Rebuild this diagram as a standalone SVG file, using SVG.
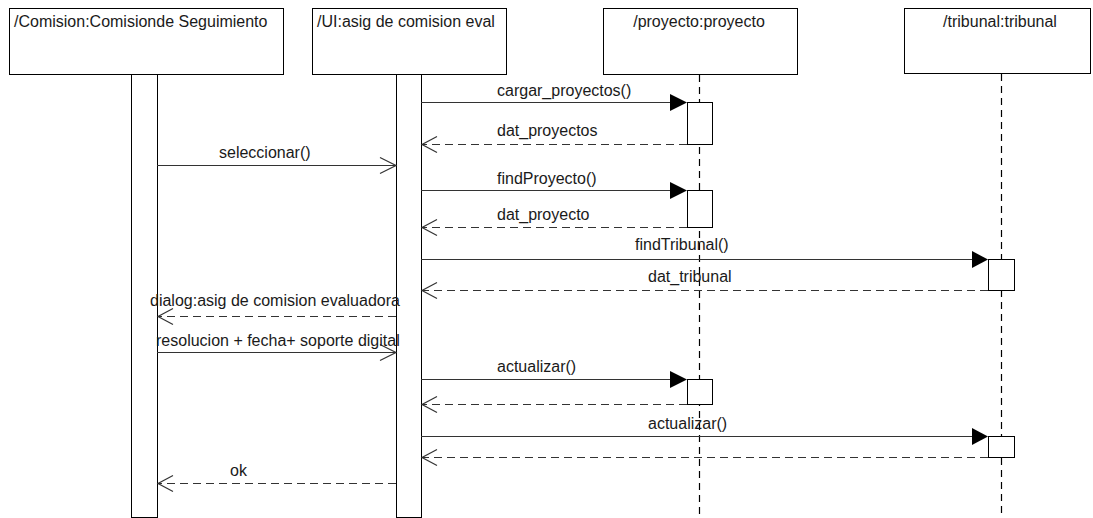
<svg xmlns="http://www.w3.org/2000/svg" width="1093" height="518" viewBox="0 0 1093 518">
  <style>
    .box { fill: #fff; stroke: #000; stroke-width: 1; }
    .act { fill: #fff; stroke: #000; stroke-width: 1; }
    .life { stroke: #000; stroke-width: 1.2; stroke-dasharray: 7 5; fill: none; }
    .msg { stroke: #333; stroke-width: 1.2; fill: none; }
    .ret { stroke: #333; stroke-width: 1.2; stroke-dasharray: 8 5; fill: none; }
    .open { stroke: #333; stroke-width: 1.2; fill: none; }
    .head { fill: #000; stroke: none; }
    text { font-family: "Liberation Sans", Arial, sans-serif; font-size: 16px; fill: #1a1a1a; }
  </style>
  <rect width="1093" height="518" fill="#fff"/>

  <!-- participants -->
  <g id="comision">
    <rect class="box" x="9.5" y="8.5" width="274" height="66"/>
    <text x="14" y="27">/Comision:Comisionde Seguimiento</text>
    <rect class="act" x="131.5" y="74.5" width="26" height="443"/>
  </g>
  <g id="ui">
    <rect class="box" x="312.5" y="8.5" width="194" height="66"/>
    <text x="317" y="27">/UI:asig de comision eval</text>
    <rect class="act" x="396.5" y="74.5" width="25" height="443"/>
  </g>
  <g id="proyecto">
    <rect class="box" x="603.5" y="8.5" width="194" height="66"/>
    <text x="699" y="27" text-anchor="middle">/proyecto:proyecto</text>
    <line class="life" x1="699.5" y1="75" x2="699.5" y2="518"/>
    <rect class="act" x="687.5" y="102.5" width="25" height="42"/>
    <rect class="act" x="687.5" y="190.5" width="25" height="37"/>
    <rect class="act" x="687.5" y="379.5" width="25" height="25"/>
  </g>
  <g id="tribunal">
    <rect class="box" x="904.5" y="8.5" width="186" height="65"/>
    <text x="1000" y="27" text-anchor="middle">/tribunal:tribunal</text>
    <line class="life" x1="1001.5" y1="74" x2="1001.5" y2="518"/>
    <rect class="act" x="988.5" y="259.5" width="26" height="31"/>
    <rect class="act" x="988.5" y="436.5" width="26" height="21"/>
  </g>

  <!-- messages -->
  <g id="connectors">
    <!-- cargar_proyectos() -->
    <line class="msg" x1="421" y1="102.5" x2="672" y2="102.5"/>
    <polygon class="head" points="670,94 687,102.5 670,111"/>
    <text x="497" y="96">cargar_proyectos()</text>
    <!-- dat_proyectos -->
    <line class="ret" x1="687" y1="144.5" x2="422" y2="144.5"/>
    <polyline class="open" points="437,136.5 422,144.5 437,152.5"/>
    <text x="497" y="136">dat_proyectos</text>
    <!-- seleccionar() -->
    <line class="msg" x1="157" y1="165.5" x2="396" y2="165.5"/>
    <polyline class="open" points="380,157.5 396,165.5 380,173.5"/>
    <text x="219" y="158">seleccionar()</text>
    <!-- findProyecto() -->
    <line class="msg" x1="421" y1="190.5" x2="672" y2="190.5"/>
    <polygon class="head" points="670,182 687,190.5 670,199"/>
    <text x="497" y="184">findProyecto()</text>
    <!-- dat_proyecto -->
    <line class="ret" x1="687" y1="227.5" x2="422" y2="227.5"/>
    <polyline class="open" points="437,219.5 422,227.5 437,235.5"/>
    <text x="497" y="220">dat_proyecto</text>
    <!-- findTribunal() -->
    <line class="msg" x1="421" y1="259.5" x2="973" y2="259.5"/>
    <polygon class="head" points="972,251 988,259.5 972,268"/>
    <text x="635" y="250">findTribunal()</text>
    <!-- dat_tribunal -->
    <line class="ret" x1="988" y1="290.5" x2="422" y2="290.5"/>
    <polyline class="open" points="437,282.5 422,290.5 437,298.5"/>
    <text x="648" y="282">dat_tribunal</text>
    <!-- dialog -->
    <line class="ret" x1="396" y1="316.5" x2="158" y2="316.5"/>
    <polyline class="open" points="173,308.5 158,316.5 173,324.5"/>
    <text x="150" y="306">dialog:asig de comision evaluadora</text>
    <!-- resolucion -->
    <line class="msg" x1="157" y1="352.5" x2="396" y2="352.5"/>
    <polyline class="open" points="380,344.5 396,352.5 380,360.5"/>
    <text x="156" y="346">resolucion + fecha+ soporte digital</text>
    <!-- actualizar() proyecto -->
    <line class="msg" x1="421" y1="379.5" x2="672" y2="379.5"/>
    <polygon class="head" points="670,371 687,379.5 670,388"/>
    <text x="497" y="372">actualizar()</text>
    <line class="ret" x1="687" y1="404.5" x2="422" y2="404.5"/>
    <polyline class="open" points="437,396.5 422,404.5 437,412.5"/>
    <!-- actualizar() tribunal -->
    <line class="msg" x1="421" y1="436.5" x2="973" y2="436.5"/>
    <polygon class="head" points="972,428 988,436.5 972,445"/>
    <text x="648" y="429">actualizar()</text>
    <line class="ret" x1="988" y1="457.5" x2="422" y2="457.5"/>
    <polyline class="open" points="437,449.5 422,457.5 437,465.5"/>
    <!-- ok -->
    <line class="ret" x1="396" y1="483.5" x2="158" y2="483.5"/>
    <polyline class="open" points="173,475.5 158,483.5 173,491.5"/>
    <text x="230" y="476">ok</text>
  </g>
</svg>
